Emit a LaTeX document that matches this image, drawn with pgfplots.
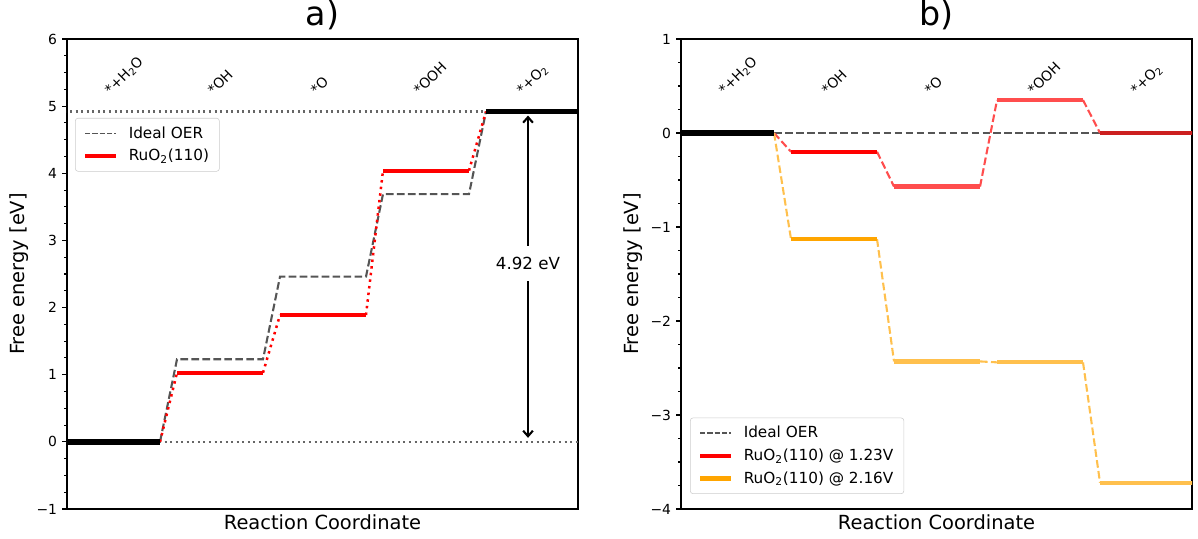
\documentclass[border=0pt]{standalone}
\usepackage{fontspec}
\setmainfont{DejaVu Sans}
\usepackage{pgfplots}
\pgfplotsset{compat=1.18}
\usetikzlibrary{arrows.meta}

\definecolor{idealgray}{HTML}{555555}
\definecolor{dotgray}{HTML}{666666}
\definecolor{redA}{HTML}{FF0000}
\definecolor{redL}{HTML}{FF4D4D}
\definecolor{redD}{HTML}{CC1F1F}
\definecolor{orA}{HTML}{FFA500}
\definecolor{orL}{HTML}{FFC04D}

\tikzset{lab/.style={rotate=45, anchor=base west, inner sep=0pt, font=\fontsize{10}{12}\selectfont}}

\pgfplotsset{
  panel/.style={
    scale only axis, width=367.9pt, height=338.4pt,
    xmin=-0.068, xmax=4.893,
    xtick=\empty,
    ytick pos=left,
    tick align=outside,
    major tick length=3.5pt, minor tick length=2pt,
    every tick/.style={black, line width=0.8pt},
    minor y tick num=3,
    axis line style={line width=0.8pt},
    tick label style={font=\fontsize{10}{12}\selectfont},
    yticklabel style={anchor=east, inner sep=0pt, xshift=-3.5pt},
    ylabel style={at={(axis description cs:-0.093,0.5)}, anchor=center, font=\fontsize{14}{16}\selectfont},
    xlabel style={at={(axis description cs:0.5,0)}, anchor=base, yshift=-15.1pt, font=\fontsize{14}{16}\selectfont},
    title style={at={(axis description cs:0.5,1)}, anchor=base, yshift=3.5pt, font=\fontsize{24}{28}\selectfont},
    xlabel={Reaction Coordinate},
    ylabel={Free energy [eV]},
    legend cell align=left,
    legend image code/.code={\draw[##1] (0pt,0pt) -- (22pt,0pt);},
    legend style={draw=black!20, rounded corners=2pt, fill=white, fill opacity=0.8, text opacity=1,
      font=\fontsize{11}{13}\selectfont, inner xsep=5.5pt, inner ysep=4pt, row sep=2.5pt,
      column sep=6pt, nodes={inner sep=2pt}},
  },
  ideal/.style={idealgray, line width=1.5pt, dash pattern=on 5.5pt off 2.4pt, forget plot},
  dotl/.style={dotgray, line width=1.5pt, dash pattern=on 1.5pt off 2.5pt, forget plot},
  plat/.style={line width=3pt, forget plot},
  endp/.style={black, line width=4pt, forget plot},
  redtr/.style={redA, line width=1.8pt, dash pattern=on 1.8pt off 3pt, forget plot},
  dtr/.style={line width=1.5pt, dash pattern=on 5.5pt off 2.4pt, forget plot},
}

\begin{document}
\begin{tikzpicture}
\useasboundingbox (-48.24pt,-21.6pt) rectangle (814.32pt,366.48pt);

% ---------------- panel a ----------------
\begin{axis}[panel, at={(0pt,0pt)}, anchor=south west,
  ymin=-1, ymax=6, ytick={-1,0,1,2,3,4,5,6}, yticklabels={−1,0,1,2,3,4,5,6},
  title={a)},
  legend style={at={(axis description cs:0.0157,0.832)}, anchor=north west}]
\addlegendimage{idealgray, line width=1pt, dash pattern=on 3.7pt off 1.6pt}
\addlegendentry{Ideal OER}
\addlegendimage{redA, line width=3pt}
\addlegendentry{RuO\textsubscript{2}(110)}

\addplot[dotl] coordinates {(-0.2,0) (5,0)};
\addplot[dotl] coordinates {(-0.2,4.92) (5,4.92)};
\addplot[ideal] coordinates {(0.835,0) (1,1.23) (1.835,1.23) (2,2.46) (2.835,2.46) (3,3.69) (3.835,3.69) (4,4.92)};
\addplot[redtr] coordinates {(0.835,0) (1,1.03)};
\addplot[redtr] coordinates {(1.835,1.03) (2,1.89)};
\addplot[redtr] coordinates {(2.835,1.89) (3,4.04)};
\addplot[redtr] coordinates {(3.835,4.04) (4,4.92)};
\addplot[plat, redA] coordinates {(1,1.03) (1.835,1.03)};
\addplot[plat, redA] coordinates {(2,1.89) (2.835,1.89)};
\addplot[plat, redA] coordinates {(3,4.04) (3.835,4.04)};
\addplot[endp] coordinates {(-0.2,0) (0.835,0)};
\addplot[endp] coordinates {(4,4.92) (5,4.92)};

\draw[{Straight Barb[length=4pt,width=7pt]}-{Straight Barb[length=4pt,width=7pt]}, line width=1.5pt, black]
  (axis cs:4.408,4.86) -- (axis cs:4.408,0.06);
\node[fill=white, inner xsep=1pt, inner ysep=8pt, font=\fontsize{12}{14}\selectfont] at (axis cs:4.408,2.66) {4.92 eV};

\node[lab] at (axis cs:0.354,5.153) {*+H\textsubscript{2}O};
\node[lab] at (axis cs:1.354,5.153) {*OH};
\node[lab] at (axis cs:2.354,5.153) {*O};
\node[lab] at (axis cs:3.354,5.153) {*OOH};
\node[lab] at (axis cs:4.354,5.153) {*+O\textsubscript{2}};
\end{axis}

% ---------------- panel b ----------------
\begin{axis}[panel, at={(442.1pt,0pt)}, anchor=south west,
  ymin=-4, ymax=1, ytick={-4,-3,-2,-1,0,1}, yticklabels={−4,−3,−2,−1,0,1},
  title={b)},
  legend style={at={(axis description cs:0.0176,0.032)}, anchor=south west}]
\addlegendimage{idealgray, line width=1pt, dash pattern=on 3.7pt off 1.6pt}
\addlegendentry{Ideal OER}
\addlegendimage{redA, line width=3pt}
\addlegendentry{RuO\textsubscript{2}(110) @ 1.23V}
\addlegendimage{orA, line width=3pt}
\addlegendentry{RuO\textsubscript{2}(110) @ 2.16V}

\addplot[ideal] coordinates {(0.835,0) (5,0)};
% red @ 1.23 V
\addplot[dtr, redL] coordinates {(0.835,0) (1,-0.20)};
\addplot[dtr, redL] coordinates {(1.835,-0.20) (2,-0.57)};
\addplot[dtr, redL] coordinates {(2.835,-0.57) (3,0.35)};
\addplot[dtr, redL] coordinates {(3.835,0.35) (4,0)};
\addplot[plat, redA] coordinates {(1,-0.20) (1.835,-0.20)};
\addplot[plat, redL] coordinates {(2,-0.57) (2.835,-0.57)};
\addplot[plat, redL] coordinates {(3,0.35) (3.835,0.35)};
\addplot[plat, redD] coordinates {(4,0) (5,0)};
% orange @ 2.16 V
\addplot[dtr, orL] coordinates {(0.835,0) (1,-1.13)};
\addplot[dtr, orL] coordinates {(1.835,-1.13) (2,-2.43)};
\addplot[dtr, orL] coordinates {(2.835,-2.43) (3,-2.44)};
\addplot[dtr, orL] coordinates {(3.835,-2.44) (4,-3.72)};
\addplot[plat, orA] coordinates {(1,-1.13) (1.835,-1.13)};
\addplot[plat, orL] coordinates {(2,-2.43) (2.835,-2.43)};
\addplot[plat, orL] coordinates {(3,-2.44) (3.835,-2.44)};
\addplot[plat, orL] coordinates {(4,-3.72) (5,-3.72)};
\addplot[endp] coordinates {(-0.2,0) (0.835,0)};

\node[lab] at (axis cs:0.354,0.395) {*+H\textsubscript{2}O};
\node[lab] at (axis cs:1.354,0.395) {*OH};
\node[lab] at (axis cs:2.354,0.395) {*O};
\node[lab] at (axis cs:3.354,0.395) {*OOH};
\node[lab] at (axis cs:4.354,0.395) {*+O\textsubscript{2}};
\end{axis}
\end{tikzpicture}
\end{document}
